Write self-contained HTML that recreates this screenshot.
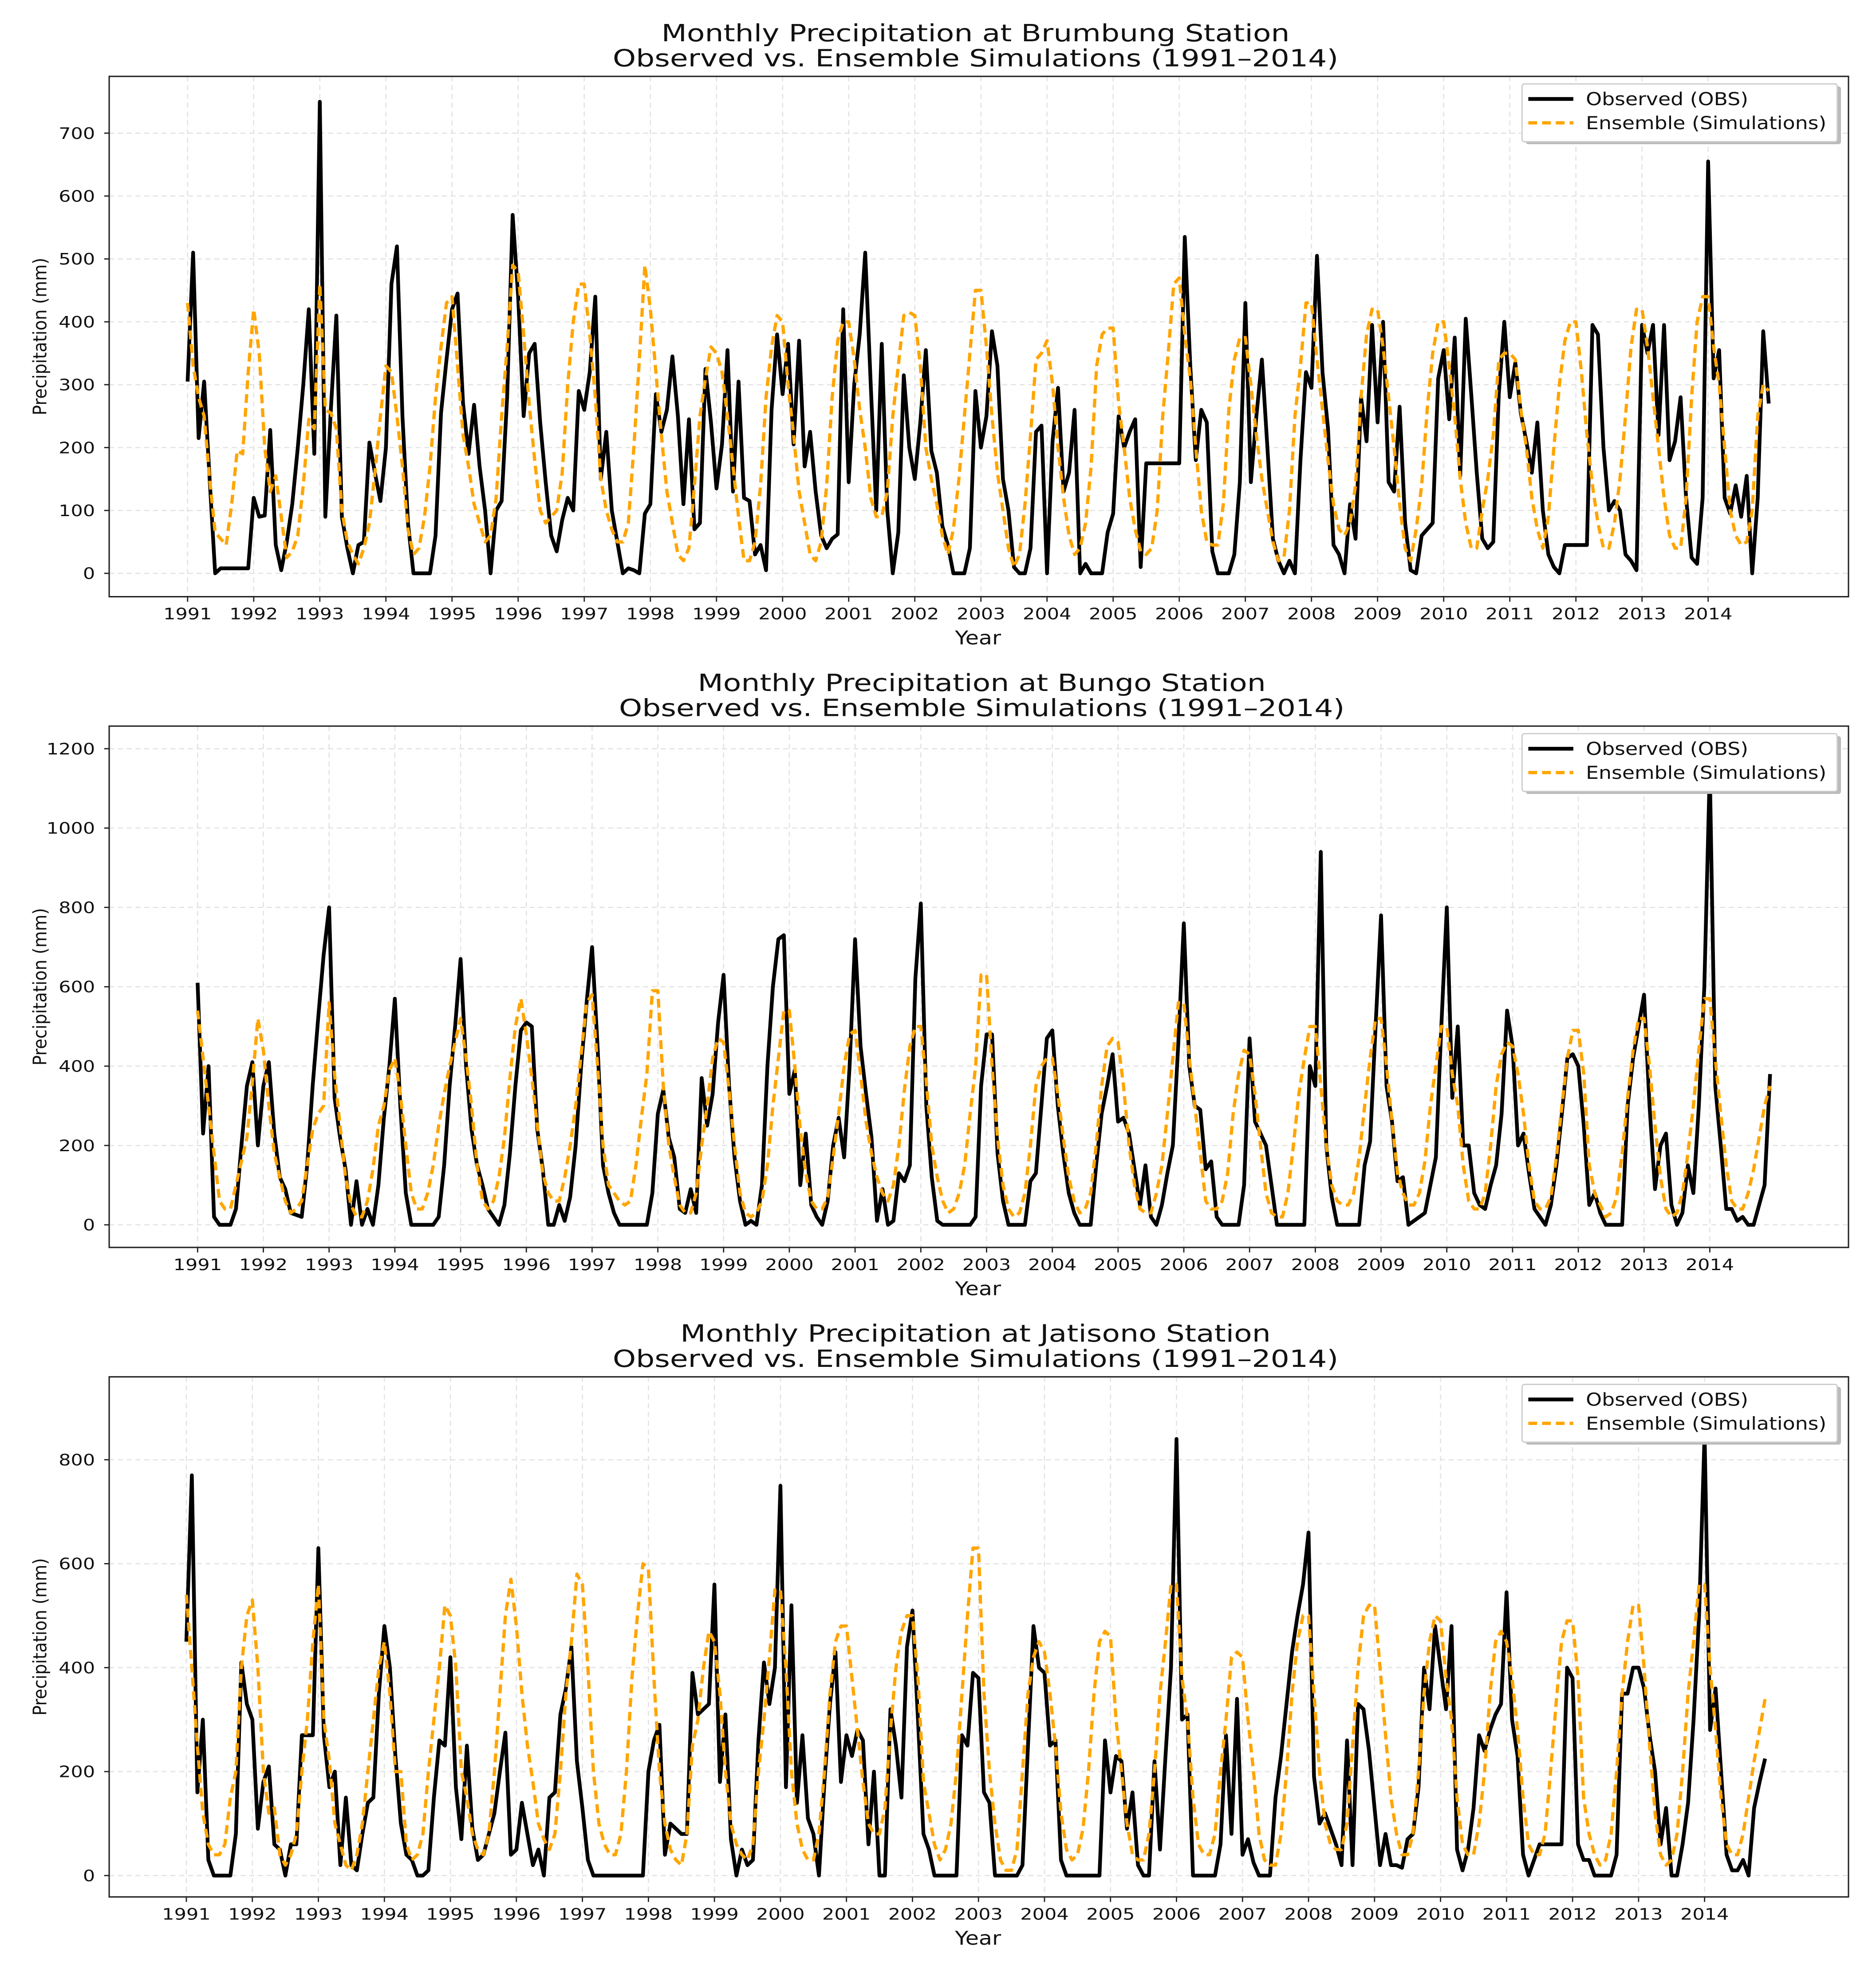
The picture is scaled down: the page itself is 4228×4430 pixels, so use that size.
<!DOCTYPE html>
<html><head><meta charset="utf-8">
<style>
html,body{margin:0;padding:0;background:#fff;}
svg{display:block;}
text{font-family:"DejaVu Sans","Liberation Sans",sans-serif;fill:#111;}
</style></head>
<body>
<svg id="fig" width="4228" height="4430" viewBox="0 0 1500 1565" preserveAspectRatio="none" xmlns="http://www.w3.org/2000/svg"></svg>
<script>
const years = [1991,1992,1993,1994,1995,1996,1997,1998,1999,2000,2001,2002,2003,2004,2005,2006,2007,2008,2009,2010,2011,2012,2013,2014];
const brumbungYTicks = [0,100,200,300,400,500,600,700];
const bungoYTicks = [0,200,400,600,800,1000,1200];
const jatisonoYTicks = [0,200,400,600,800];

const brumbungObs = [
305,510,215,305,150,0,8,8,8,8,8,8,
120,90,92,228,45,5,50,110,200,300,420,190,
750,90,260,410,90,40,0,45,50,208,160,115,
200,460,520,250,80,0,0,0,0,60,255,340,
420,445,270,190,268,170,100,0,100,115,280,570,
440,250,350,365,240,145,60,35,85,120,100,290,
260,320,440,150,225,100,50,0,8,5,0,95,
110,285,225,260,345,250,110,245,70,80,325,240,
135,205,355,130,305,120,115,30,45,5,260,380,
285,365,205,370,170,225,130,60,40,55,62,420,
145,300,380,510,300,100,365,100,0,65,315,200,
150,240,355,195,160,75,45,0,0,0,40,290,
200,250,385,330,150,100,10,0,0,40,225,235,
0,210,295,130,160,260,0,15,0,0,0,65,
95,250,200,225,245,10,175,175,175,175,175,175,
175,535,330,180,260,240,35,0,0,0,30,145,
430,145,250,340,200,55,20,0,20,0,180,320,
295,505,320,230,45,30,0,110,55,280,210,395,
240,400,145,130,265,80,5,0,60,70,80,310,
355,245,375,155,405,285,160,55,40,50,285,400,
280,335,255,210,160,240,100,30,10,0,45,45,
45,45,45,395,380,200,100,115,100,30,20,5,
395,350,395,220,395,180,210,280,120,25,15,120,
655,310,355,120,95,140,90,155,0,120,385,270];
const brumbungEns = [
430,330,280,250,150,65,55,45,110,195,190,320,
420,350,200,130,155,90,25,35,60,140,245,230,
460,260,255,230,100,50,30,15,40,80,160,250,
330,320,250,170,70,30,40,90,170,280,360,430,
440,330,220,170,110,80,50,60,120,250,360,490,
480,380,270,180,100,80,90,100,160,300,400,460,
460,380,280,150,100,70,50,50,80,200,340,490,
420,320,220,130,80,30,20,40,140,250,310,360,
350,320,250,170,90,20,20,50,140,280,360,410,
400,300,220,130,80,30,20,50,140,280,370,400,
400,340,260,200,120,90,90,130,250,330,410,415,
410,330,200,150,110,60,30,70,150,250,350,450,
450,360,250,160,100,40,10,30,110,220,340,350,
370,300,200,120,60,30,40,80,170,330,380,390,
390,270,200,120,70,35,30,40,100,250,350,460,
470,380,310,200,100,50,45,45,110,260,340,375,
375,300,220,150,100,50,20,25,100,250,330,430,
430,340,260,180,110,70,60,80,140,280,380,420,
420,360,280,200,110,40,20,70,140,260,350,400,
400,330,250,150,80,40,40,100,150,220,340,350,
350,340,260,200,120,70,40,90,200,300,370,400,
400,320,220,140,80,40,40,80,150,250,360,420,
420,360,280,200,120,60,40,40,120,280,400,440,
440,360,300,200,100,60,45,50,100,250,300,290];

const bungoObs = [
610,230,400,20,0,0,0,40,200,350,410,200,
350,410,230,120,90,30,25,20,150,350,520,680,
800,320,220,140,0,110,0,40,0,100,270,400,
570,300,80,0,0,0,0,0,20,150,350,500,
670,400,240,150,100,40,20,0,50,180,350,490,
510,500,240,140,0,0,50,10,70,200,400,560,
700,450,150,80,30,0,0,0,0,0,0,80,
280,340,220,170,40,30,90,30,370,250,330,510,
630,350,170,60,0,10,0,100,400,600,720,730,
330,390,100,230,50,20,0,60,200,270,170,400,
720,450,330,220,10,90,0,10,130,110,150,620,
810,300,120,10,0,0,0,0,0,0,20,350,
480,480,180,60,0,0,0,0,110,130,300,470,
490,300,180,80,30,0,0,0,150,280,350,430,
260,270,230,140,50,150,20,0,50,130,200,460,
760,400,300,290,140,160,20,0,0,0,0,100,
470,260,230,200,100,0,0,0,0,0,0,400,
350,940,200,70,0,0,0,0,0,150,210,500,
780,350,260,110,120,0,10,20,30,100,170,500,
800,320,500,200,200,80,50,40,100,150,280,540,
450,200,230,130,40,20,0,50,150,280,420,430,
400,250,50,80,30,0,0,0,0,300,420,500,
580,300,90,200,230,50,0,30,150,80,300,600,
1150,350,200,40,40,10,20,0,0,50,100,380];
const bungoEns = [
540,420,300,180,60,40,40,100,160,220,360,520,
440,300,180,120,60,30,40,60,150,240,280,300,
560,380,250,120,50,20,20,60,140,250,300,390,
420,330,200,80,40,40,80,150,250,330,400,460,
520,420,300,150,60,40,60,120,220,370,500,570,
480,370,250,130,80,60,60,120,200,300,430,560,
580,400,200,100,80,60,50,60,150,270,380,590,
590,350,200,120,50,30,30,80,200,300,420,470,
460,340,200,80,30,20,30,60,150,300,420,540,
540,400,240,130,60,40,40,70,170,280,400,480,
490,380,260,180,120,80,60,100,200,340,450,500,
500,360,200,120,60,30,40,80,150,280,400,630,
630,400,220,100,40,20,30,80,200,350,400,420,
420,330,220,120,60,30,40,80,200,350,450,470,
460,350,200,100,40,30,30,80,150,280,420,560,
560,420,300,180,60,40,40,60,130,280,380,440,
430,330,200,80,30,20,20,80,200,330,420,500,
500,350,200,100,60,50,50,80,170,300,420,520,
520,400,260,130,80,50,50,80,160,300,400,500,
500,380,300,150,60,40,40,80,200,350,430,460,
450,380,280,150,60,40,40,70,170,300,420,490,
490,380,150,80,50,20,30,70,180,320,440,520,
520,400,250,120,40,20,30,80,180,300,440,570,
570,420,280,150,60,40,40,80,140,220,300,350];

const jatisonoObs = [
450,770,160,300,30,0,0,0,0,80,410,330,
300,90,180,210,60,50,0,60,60,270,270,270,
630,270,170,200,20,150,20,10,80,140,150,350,
480,400,230,100,40,30,0,0,10,150,260,250,
420,170,70,250,90,30,40,80,120,200,275,40,
50,140,80,20,50,0,150,160,310,360,440,220,
130,30,0,0,0,0,0,0,0,0,0,0,
200,260,290,40,100,90,80,80,390,310,320,330,
560,180,310,70,0,50,20,30,260,410,330,400,
750,170,520,140,270,110,80,0,180,330,430,180,
270,230,280,260,60,200,0,0,320,250,150,440,
510,300,80,50,0,0,0,0,0,270,250,390,
380,160,140,0,0,0,0,0,20,250,480,400,
390,250,260,30,0,0,0,0,0,0,0,260,
160,230,220,90,160,20,0,0,220,50,230,400,
840,300,310,0,0,0,0,0,60,270,80,340,
40,70,25,0,0,0,150,230,330,430,500,560,
660,190,100,120,90,60,20,260,20,330,320,240,
130,20,80,20,20,15,70,80,170,400,320,480,
400,320,480,50,10,50,130,270,240,280,310,330,
545,300,230,40,0,30,60,60,60,60,60,400,
380,60,30,30,0,0,0,0,40,350,350,400,
400,360,270,200,60,130,0,0,60,140,300,500,
850,280,360,200,40,10,10,30,0,130,180,225];
const jatisonoEns = [
540,400,250,120,60,40,40,60,150,200,400,500,
530,400,200,120,130,40,20,40,80,200,300,450,
560,300,220,100,60,20,10,40,100,200,300,400,
450,350,200,200,60,30,40,80,200,300,400,520,
500,400,200,150,80,50,40,80,200,350,500,570,
480,350,250,180,100,70,50,80,200,350,450,580,
560,400,200,100,60,40,40,80,200,380,500,600,
590,380,200,100,50,30,20,80,250,300,400,470,
450,350,200,100,60,40,30,60,200,300,420,550,
550,400,200,100,50,30,30,80,200,350,450,480,
480,380,280,180,100,80,80,130,280,400,470,500,
500,380,180,120,60,30,50,100,200,350,500,630,
630,350,200,100,30,10,10,50,200,350,420,450,
430,350,250,120,50,30,40,90,200,350,450,470,
460,300,200,100,40,30,30,80,200,350,450,560,
560,380,300,150,60,40,40,80,200,300,420,430,
420,300,200,80,30,20,20,80,200,350,450,500,
500,350,200,100,60,50,50,100,250,400,500,520,
520,400,270,150,80,40,40,80,200,350,450,500,
490,380,300,150,60,40,40,100,200,350,450,470,
450,380,280,150,60,40,40,80,200,330,450,490,
490,380,150,80,40,20,30,80,200,350,450,520,
520,400,250,120,40,20,30,80,200,350,450,560,
560,400,280,150,60,40,40,80,150,220,280,340];

const NS = "http://www.w3.org/2000/svg";
const svg = document.getElementById('fig');
function mk(tag, attrs, parent){
  const e = document.createElementNS(NS, tag);
  for (const k in attrs) e.setAttribute(k, attrs[k]);
  (parent||svg).appendChild(e);
  return e;
}
function txt(parent, x, y, sx, size, anchor, str){
  const e = mk('text', {x:0, y:0, 'text-anchor':anchor, 'font-size':size, transform:'translate('+x+','+y+') scale('+sx+',1)'}, parent);
  e.textContent = str;
  return e;
}

function drawPanel(cfg){
  const g = mk('g', {});
  
  
  const xS = t => cfg.x0 + t * cfg.perYear;
  const yS = v => cfg.y0 - v * cfg.perUnit;
  const t1 = txt(g, cfg.cx, cfg.top - 28, 1.24, 19, 'middle', 'Monthly Precipitation at ' + cfg.station + ' Station');
  
  
  const t2 = txt(g, cfg.cx, cfg.top - 8, 1.24, 19, 'middle', 'Observed vs. Ensemble Simulations (1991\u20132014)');
  
  
  years.forEach((yr, i) => {
    const x = xS(i);
    mk('line', {x1:x, x2:x, y1:cfg.top, y2:cfg.bottom, stroke:'#e2e2e2', 'stroke-width':0.9, 'stroke-dasharray':'4,3'}, g);
  });
  cfg.yTicks.forEach(v => {
    const y = yS(v);
    mk('line', {x1:87.3, x2:1478, y1:y, y2:y, stroke:'#e2e2e2', 'stroke-width':0.9, 'stroke-dasharray':'4,3'}, g);
  });
  const fr = mk('rect', {x:87.3, y:cfg.top, width:1478-87.3, height:cfg.bottom-cfg.top, fill:'none', stroke:'#222', 'stroke-width':1.1}, g);
  
  
  years.forEach((yr, i) => {
    const x = xS(i);
    mk('line', {x1:x, x2:x, y1:cfg.bottom, y2:cfg.bottom+4, stroke:'#222', 'stroke-width':1}, g);
    const tl = txt(g, x, cfg.bottom+18, 1.22, 12.5, 'middle', String(yr));
    
    
  });
  cfg.yTicks.forEach(v => {
    const y = yS(v);
    mk('line', {x1:83.3, x2:87.3, y1:y, y2:y, stroke:'#222', 'stroke-width':1}, g);
    const tl = txt(g, 76, y+4.5, 1.22, 12.5, 'end', String(v));
    
    
  });
  const xl = txt(g, 782, cfg.bottom+38, 1.16, 15, 'middle', 'Year');
  
  
  const yc = (cfg.top + cfg.bottom)/2;
  const yl = mk('text', {x:0, y:0, 'text-anchor':'middle', 'font-size':15, 'font-family':'Liberation Sans, sans-serif', transform:'translate(37,'+yc+') rotate(-90) scale(0.9,1)'}, g);
  yl.textContent = 'Precipitation (mm)';
  
  
  const path = arr => arr.map((v,i)=>(i?'L':'M')+xS(i/12).toFixed(2)+','+yS(v).toFixed(2)).join(' ');
  const obs = mk('path', {d:path(cfg.obs), fill:'none', stroke:'#000', 'stroke-width':3, 'stroke-linejoin':'round'}, g);
  
  
  const ens = mk('path', {d:path(cfg.ens), fill:'none', stroke:'#ffa500', 'stroke-width':2.6, 'stroke-dasharray':'7,4', 'stroke-linejoin':'round'}, g);
  
  
  const lg = mk('g', {}, g);
  
  
  const ly = cfg.top + 6;
  mk('rect', {x:1220, y:ly+2, width:252, height:46, fill:'#bbb', rx:2}, lg);
  mk('rect', {x:1217, y:ly, width:252, height:46, fill:'#fff', stroke:'#ccc', 'stroke-width':1, rx:2}, lg);
  mk('line', {x1:1222, x2:1258, y1:ly+12, y2:ly+12, stroke:'#000', 'stroke-width':3}, lg);
  mk('line', {x1:1222, x2:1258, y1:ly+31, y2:ly+31, stroke:'#ffa500', 'stroke-width':2.6, 'stroke-dasharray':'7,4'}, lg);
  const le1 = txt(lg, 1268, ly+17, 1.16, 14, 'start', 'Observed (OBS)');
  
  
  const le2 = txt(lg, 1268, ly+36, 1.16, 14, 'start', 'Ensemble (Simulations)');
  
  
}

drawPanel({key:'brumbung', station:'Brumbung', cx:780, top:60.8, bottom:475, x0:150, perYear:52.86, y0:456.4, perUnit:(456.4-106)/700, yTicks:brumbungYTicks, obs:brumbungObs, ens:brumbungEns});
drawPanel({key:'bungo', station:'Bungo', cx:785, top:578, bottom:993, x0:158, perYear:52.57, y0:975, perUnit:(975-596)/1200, yTicks:bungoYTicks, obs:bungoObs, ens:bungoEns});
drawPanel({key:'jatisono', station:'Jatisono', cx:780, top:1096, bottom:1510, x0:149, perYear:52.78, y0:1493, perUnit:(1493-1162)/800, yTicks:jatisonoYTicks, obs:jatisonoObs, ens:jatisonoEns});
</script>
</body></html>
